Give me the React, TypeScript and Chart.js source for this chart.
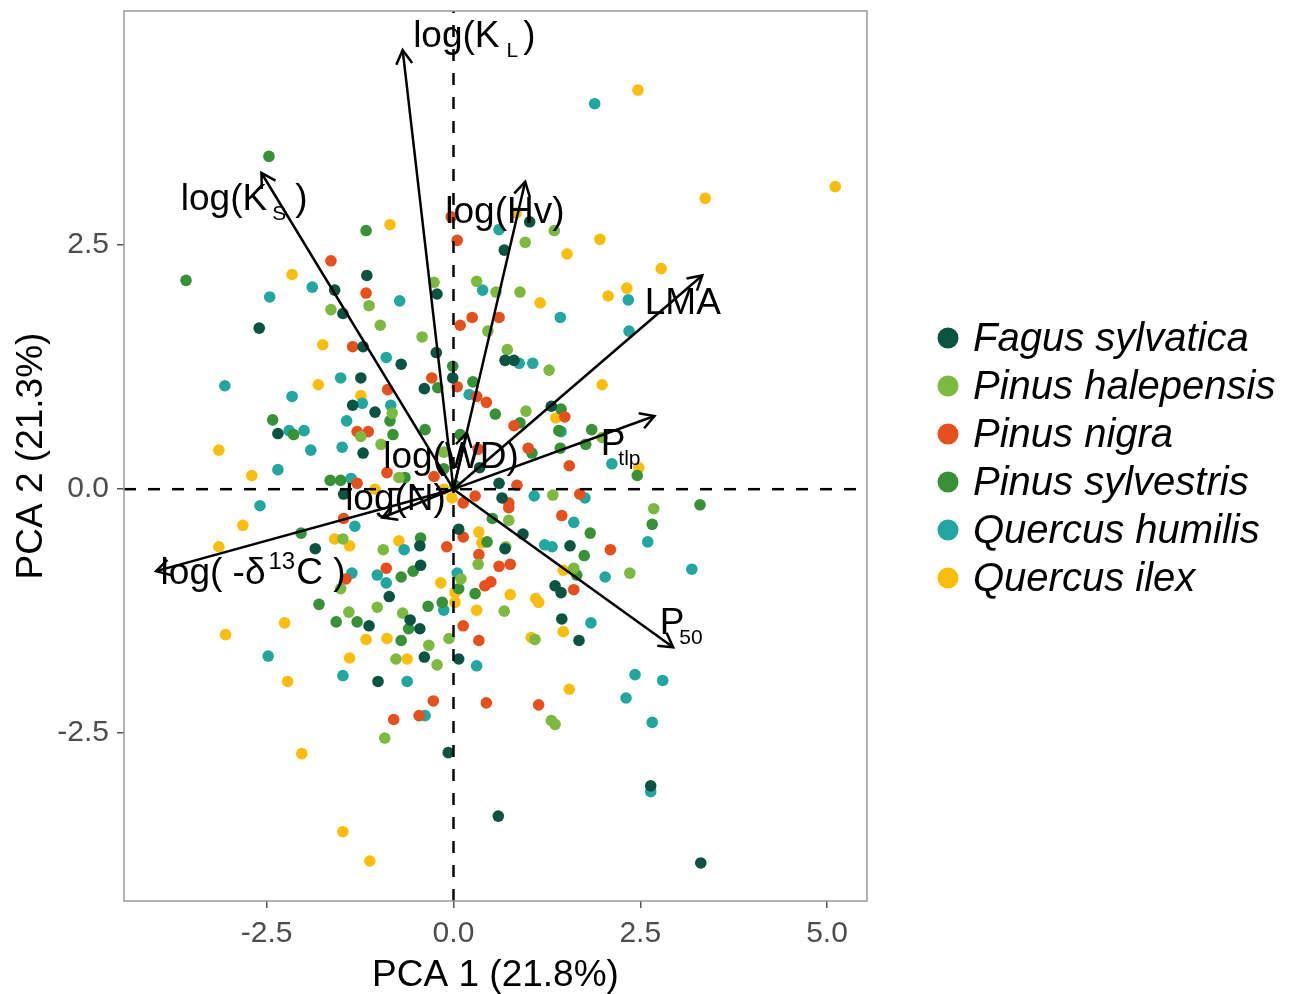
import React, { useEffect, useRef } from "react";
import { Chart, registerables } from "chart.js";

Chart.register(...registerables);

const speciesNames = ["Fagus sylvatica", "Pinus halepensis", "Pinus nigra", "Pinus sylvestris", "Quercus humilis", "Quercus ilex"];
const speciesColors = ["#0b5343", "#7cb93f", "#e6501c", "#379237", "#22a6a0", "#fbbd0b"];

const fagusSylvatica: number[][] = [
  [1.02, 2.74], [-1.16, 2.19], [-1.59, 2.04], [-1.48, 1.8], [-2.6, 1.65], [-1.21, 1.46], [-1.24, 1.14], [-1.35, 0.86],
  [-2.35, 0.57], [-1.21, 0.37], [0.68, 2.45], [-0.22, 2.0], [-0.23, 1.4], [-0.7, 1.28], [0.69, 1.32], [0.81, 1.32],
  [-0.01, 1.14], [-0.39, 1.03], [-1.05, 0.79], [1.31, 0.85], [-1.85, -0.61], [-1.13, -1.4], [-1.47, -0.05], [0.61, 0.06],
  [0.65, -0.09], [0.93, -0.46], [0.07, -0.41], [-0.45, -0.58], [0.69, -0.61], [1.56, -0.58], [-0.44, -0.78], [1.36, -0.99],
  [1.44, -1.06], [-0.86, -1.1], [-0.58, -1.34], [-0.45, -1.43], [1.45, -1.33], [1.68, -1.55], [-0.39, -1.72], [0.07, -1.74],
  [-1.01, -1.97], [-0.07, -2.7], [0.6, -3.35], [2.64, -3.04], [3.31, -3.83], [0.35, 0.22]
];
const pinusHalepensis: number[][] = [
  [1.35, 2.65], [0.96, 2.53], [-1.64, 1.84], [-1.13, 1.88], [-1.24, 0.54], [-0.26, 2.12], [0.31, 2.13], [0.57, 2.02],
  [0.89, 2.02], [0.46, 1.62], [-0.98, 1.68], [-0.42, 1.56], [0.72, 1.43], [1.28, 1.22], [-0.82, 0.78], [-0.97, 0.46],
  [0.97, 0.8], [1.99, 0.53], [-0.13, 0.38], [-1.48, -0.51], [-1.51, -1.02], [-1.4, -1.26], [-0.73, 0.12], [1.33, -0.06],
  [0.74, -0.32], [-0.94, -0.62], [0.7, -0.59], [0.33, -0.77], [1.61, -0.81], [0.1, -0.92], [-1.02, -1.21], [0.68, -1.25],
  [-0.68, -1.27], [-0.33, -1.6], [-0.06, -1.53], [1.09, -1.54], [-0.77, -1.74], [-0.22, -1.8], [2.68, -0.2], [2.36, -0.86],
  [-0.92, -2.55], [1.31, -2.37], [1.36, -2.41]
];
const pinusNigra: number[][] = [
  [-0.03, 2.79], [0.05, 2.55], [-1.64, 2.34], [-1.17, 2.01], [-1.35, 1.46], [-1.29, 0.59], [-1.14, 0.59], [0.09, 1.68],
  [0.25, 1.76], [0.61, 1.76], [-0.29, 1.14], [0.05, 1.05], [0.31, 0.95], [0.44, 0.89], [-0.88, 1.02], [1.49, 0.74],
  [0.81, 0.65], [1.0, 0.42], [0.33, 0.41], [-1.47, -0.3], [-1.44, -0.92], [-0.89, 0.17], [-0.26, 0.13], [0.74, -0.14],
  [0.74, -0.19], [0.85, 0.04], [1.55, 0.24], [1.69, -0.05], [0.29, -0.07], [0.13, -0.14], [1.45, -0.27], [0.13, -0.49],
  [-0.09, -0.59], [2.1, -0.62], [0.34, -0.67], [0.61, -0.79], [0.76, -0.77], [-0.9, -0.81], [0.42, -0.99], [0.5, -0.95],
  [1.61, -1.03], [0.13, -1.4], [0.34, -1.55], [-0.27, -2.17], [-0.8, -2.36], [-0.46, -2.32], [0.44, -2.19], [1.14, -2.21],
  [-1.29, 0.06]
];
const pinusSylvestris: number[][] = [
  [-2.47, 3.41], [-1.17, 2.65], [-3.58, 2.14], [-2.42, 0.71], [-2.14, 0.56], [-0.01, 1.26], [-0.21, 1.04], [0.26, 1.1],
  [-0.85, 0.7], [-0.81, 0.56], [-0.38, 0.61], [0.56, 0.77], [1.44, 0.82], [0.89, 0.68], [1.41, 0.6], [1.85, 0.61],
  [1.77, 0.46], [0.09, 0.56], [1.05, 0.37], [1.43, 0.42], [-1.65, 0.09], [-1.51, 0.09], [-2.04, -0.45], [-1.8, -1.18],
  [-1.57, -1.36], [-1.29, -1.36], [-0.65, 0.12], [-0.13, 0.21], [0.52, -0.3], [1.83, -0.45], [0.45, -0.54], [-0.44, -0.5],
  [1.75, -0.68], [1.65, -0.88], [-0.7, -0.9], [-0.54, -0.84], [0.29, -1.07], [0.07, -1.02], [-0.34, -1.2], [-0.15, -1.16],
  [-0.6, -1.43], [-0.7, -1.55], [2.46, 0.14], [3.3, -0.16], [2.66, -0.36], [0.02, 0.04]
];
const quercusHumilis: number[][] = [
  [1.89, 3.95], [0.61, 2.66], [-1.89, 2.07], [-2.46, 1.97], [-1.51, 1.14], [-3.06, 1.06], [-2.16, 0.95], [-1.22, 0.88],
  [-1.43, 0.7], [-2.2, 0.6], [-2.0, 0.6], [-1.91, 0.4], [-1.49, 0.43], [0.39, 2.04], [-0.72, 1.93], [1.43, 1.76],
  [-0.9, 1.35], [0.88, 1.29], [1.06, 1.29], [0.21, 0.97], [-0.84, 0.86], [1.44, 0.59], [2.34, 1.94], [2.35, 1.62],
  [-2.35, 0.2], [-1.37, 0.11], [-2.59, -0.17], [-1.32, -0.38], [-1.36, -0.86], [-2.48, -1.71], [-1.48, -1.91], [2.12, 0.26],
  [1.08, -0.07], [1.76, -0.09], [1.61, -0.34], [-0.66, -0.62], [1.22, -0.57], [1.32, -0.59], [2.03, -0.9], [-1.02, -0.88],
  [-0.9, -0.96], [0.05, -0.86], [-0.13, -1.24], [1.84, -1.37], [0.31, -1.81], [2.6, -0.54], [3.19, -0.82], [2.43, -1.9],
  [2.8, -1.96], [2.31, -2.14], [2.66, -2.39], [2.64, -3.1], [-0.62, -1.97], [-0.38, -2.32]
];
const quercusIlex: number[][] = [
  [2.47, 4.09], [3.37, 2.98], [5.11, 3.1], [0.84, 2.83], [-0.85, 2.71], [-2.16, 2.2], [-1.75, 1.48], [-1.81, 1.07],
  [-1.24, 0.96], [-3.14, 0.4], [1.96, 2.56], [1.52, 2.41], [2.07, 1.98], [1.16, 1.91], [1.99, 1.07], [1.37, 0.73],
  [2.78, 2.26], [2.32, 2.06], [-2.7, 0.14], [-2.82, -0.37], [-3.14, -0.59], [-1.59, -0.51], [-1.39, -0.58], [-2.26, -1.37],
  [-3.05, -1.49], [-1.17, -1.54], [-1.39, -1.73], [-2.22, -1.97], [-1.05, 0.0], [-0.02, -0.09], [0.34, -0.44], [0.38, -0.55],
  [-0.73, -0.53], [1.47, -0.83], [-0.17, -0.96], [0.76, -1.08], [1.1, -1.12], [1.14, -1.16], [0.02, -1.06], [0.02, -1.16],
  [0.31, -1.24], [1.47, -1.46], [-0.89, -1.53], [1.04, -1.52], [-0.62, -1.74], [2.48, 0.22], [1.55, -2.05], [-2.03, -2.71],
  [-1.48, -3.51], [-1.12, -3.81], [-0.13, 0.0]
];
const speciesPoints = [fagusSylvatica, pinusHalepensis, pinusNigra, pinusSylvestris, quercusHumilis, quercusIlex];

const xRange = [-4.41, 5.535];
const yRange = [-4.22, 4.9];
const xTicks = [-2.5, 0, 2.5, 5];
const xTickLabels = ["-2.5", "0.0", "2.5", "5.0"];
const yTicks = [-2.5, 0, 2.5];
const yTickLabels = ["-2.5", "0.0", "2.5"];
const xTitle = "PCA 1 (21.8%)";
const yTitle = "PCA 2 (21.3%)";
const refLineX = 0;
const refLineY = 0;

const arrowNames = ["log(K_L)", "log(K_S)", "log(Hv)", "LMA", "P_tlp", "P_50", "log(-δ13C)", "log(WD)", "log(N)"];
const arrowTips: number[][] = [
  [-0.68, 4.5], [-2.57, 3.24], [0.96, 3.15], [3.33, 2.19], [2.69, 0.75], [2.94, -1.62], [-3.98, -0.84], [0.18, 0.58], [-0.95, -0.29]
];
const labelAnchors: number[][] = [
  [-0.54, 4.53], [-3.65, 2.86], [-0.11, 2.73], [2.56, 1.79], [1.97, 0.35], [2.76, -1.48], [-3.92, -0.97], [-0.94, 0.22], [-1.45, -0.21]
];
// [text, kind, gap before, gap after]
const labelParts: string[][][] = [
  [["log(K", "n"], ["L", "sub", "7", "5"], [")", "n"]],
  [["log(K", "n"], ["S", "sub", "5", "9"], [")", "n"]],
  [["log(Hv)", "n"]],
  [["LMA", "n"]],
  [["P", "n"], ["tlp", "sub", "-7", "0"]],
  [["P", "n"], ["50", "sub", "-5", "0"]],
  [["log( -δ", "n"], ["13", "sup", "3", "1"], ["C )", "n"]],
  [["log(WD)", "n"]],
  [["log(N)", "n"]]
];

const FONT = '"Liberation Sans", Arial, sans-serif';

const biplotPlugin = {
  id: "biplot",
  afterDatasetsDraw(chart: any) {
    const { ctx, scales } = chart;
    const xs = scales.x;
    const ys = scales.y;
    ctx.save();
    ctx.strokeStyle = "#000";
    ctx.lineWidth = 2.5;
    const x0 = xs.getPixelForValue(0);
    const y0 = ys.getPixelForValue(0);
    arrowTips.forEach(([tx, ty]) => {
      const x1 = xs.getPixelForValue(tx);
      const y1 = ys.getPixelForValue(ty);
      const ang = Math.atan2(y1 - y0, x1 - x0);
      const L = 16;
      const a = Math.PI / 6;
      ctx.beginPath();
      ctx.moveTo(x1 - L * Math.cos(ang - a), y1 - L * Math.sin(ang - a));
      ctx.lineTo(x1, y1);
      ctx.lineTo(x1 - L * Math.cos(ang + a), y1 - L * Math.sin(ang + a));
      ctx.stroke();
    });
    ctx.fillStyle = "#000";
    ctx.textBaseline = "alphabetic";
    ctx.textAlign = "left";
    labelParts.forEach((parts, i) => {
      let px = xs.getPixelForValue(labelAnchors[i][0]);
      const py = ys.getPixelForValue(labelAnchors[i][1]);
      parts.forEach(([text, kind, g0, g1]) => {
        const before = g0 ? Number(g0) : 0;
        const after = g1 ? Number(g1) : 0;
        if (kind === "n") {
          ctx.font = `37px ${FONT}`;
          ctx.fillText(text, px, py);
          px += ctx.measureText(text).width;
        } else if (kind === "sub") {
          ctx.font = `21px ${FONT}`;
          px += before;
          ctx.fillText(text, px, py + 10);
          px += ctx.measureText(text).width + after;
        } else {
          ctx.font = `24px ${FONT}`;
          px += before;
          ctx.fillText(text, px, py - 15);
          px += ctx.measureText(text).width + after;
        }
      });
    });
    ctx.restore();
  },
  afterDraw(chart: any) {
    const { ctx, chartArea } = chart;
    ctx.save();
    ctx.strokeStyle = "#9a9a9a";
    ctx.lineWidth = 1.5;
    ctx.strokeRect(chartArea.left, chartArea.top, chartArea.right - chartArea.left, chartArea.bottom - chartArea.top);
    speciesNames.forEach((name, i) => {
      const cy = 338 + 48 * i;
      ctx.fillStyle = speciesColors[i];
      ctx.beginPath();
      ctx.arc(948, cy, 10.5, 0, Math.PI * 2);
      ctx.fill();
      ctx.fillStyle = "#000";
      ctx.font = `italic 40px ${FONT}`;
      ctx.textBaseline = "alphabetic";
      ctx.textAlign = "left";
      ctx.fillText(name, 973, cy + 13);
    });
    ctx.restore();
  }
};

export default function App() {
  const ref = useRef<HTMLCanvasElement>(null);
  useEffect(() => {
    if (!ref.current) return;
    const pointSets = speciesPoints.map((pts, i) => ({
      label: speciesNames[i],
      data: pts.map(([x, y]) => ({ x, y })),
      backgroundColor: speciesColors[i],
      borderWidth: 0,
      pointRadius: 5.8,
      showLine: false,
      order: 10
    }));
    const refSets = [
      {
        label: "v0",
        data: [{ x: refLineX, y: yRange[0] }, { x: refLineX, y: yRange[1] }],
        showLine: true, borderColor: "#000", borderWidth: 2.5, borderDash: [12, 12], pointRadius: 0, order: 5
      },
      {
        label: "h0",
        data: [{ x: xRange[0], y: refLineY }, { x: xRange[1], y: refLineY }],
        showLine: true, borderColor: "#000", borderWidth: 2.5, borderDash: [12, 12], pointRadius: 0, order: 5
      }
    ];
    const arrowSets = arrowTips.map(([tx, ty], i) => ({
      label: arrowNames[i],
      data: [{ x: 0, y: 0 }, { x: tx, y: ty }],
      showLine: true, borderColor: "#000", borderWidth: 2.5, pointRadius: 0, order: 1
    }));
    const chart = new Chart(ref.current, {
      type: "scatter",
      data: { datasets: [...pointSets, ...refSets, ...arrowSets] as any },
      options: {
        animation: false,
        responsive: false,
        devicePixelRatio: 1,
        layout: { padding: { left: 0, right: 424, top: 11, bottom: 0 } },
        plugins: { legend: { display: false }, tooltip: { enabled: false } },
        scales: {
          x: {
            type: "linear",
            min: xRange[0],
            max: xRange[1],
            afterBuildTicks: (s: any) => { s.ticks = xTicks.map((v) => ({ value: v })); },
            afterFit: (s: any) => { s.height = 93; s.paddingLeft = 0; s.paddingRight = 0; },
            ticks: {
              callback: (_v: any, i: number) => xTickLabels[i],
              color: "#4d4d4d",
              font: { size: 30, family: FONT },
              padding: 8,
              maxRotation: 0,
              autoSkip: false
            },
            grid: { drawOnChartArea: false, drawTicks: true, tickLength: 7, color: "#555", lineWidth: 1.5 },
            border: { display: false },
            title: { display: true, text: xTitle, color: "#000", font: { size: 37, family: FONT }, padding: { top: 0, bottom: -4 } }
          },
          y: {
            type: "linear",
            min: yRange[0],
            max: yRange[1],
            afterBuildTicks: (s: any) => { s.ticks = yTicks.map((v) => ({ value: v })); },
            afterFit: (s: any) => { s.width = 124; s.paddingTop = 0; s.paddingBottom = 0; },
            ticks: {
              callback: (_v: any, i: number) => yTickLabels[i],
              color: "#4d4d4d",
              font: { size: 30, family: FONT },
              padding: 8,
              autoSkip: false
            },
            grid: { drawOnChartArea: false, drawTicks: true, tickLength: 7, color: "#555", lineWidth: 1.5 },
            border: { display: false },
            title: { display: true, text: yTitle, color: "#000", font: { size: 37, family: FONT }, padding: { top: 10, bottom: 0 } }
          }
        }
      } as any,
      plugins: [biplotPlugin]
    });
    return () => chart.destroy();
  }, []);
  return (
    <div style={{ position: "absolute", left: 0, top: 0, width: 1291, height: 994, background: "#fff" }}>
      <canvas ref={ref} width={1291} height={994} style={{ display: "block" }} />
    </div>
  );
}
